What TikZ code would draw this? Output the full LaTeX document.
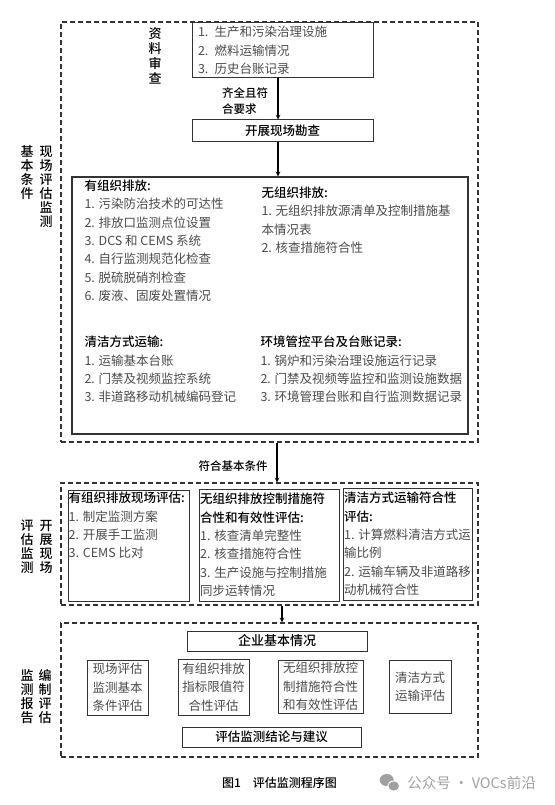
\documentclass[tikz,border=0pt]{standalone}
\usepackage{fontspec}
\setmainfont{Noto Sans CJK SC}
\IfFontExistsTF{Noto Sans CJK SC Medium}{\newfontfamily\heiti{Noto Sans CJK SC Medium}}{\newcommand{\heiti}{\bfseries}}
\usetikzlibrary{positioning}

\definecolor{itemgray}{HTML}{4A4A4A}
\definecolor{framegray}{HTML}{333333}
\definecolor{markgray}{HTML}{A0A0A0}

\newcommand{\titulo}[1]{{\color{black}\heiti #1}}

\tikzstyle{line} = [draw, -stealth, line width=1.1pt]
\tikzstyle{stage} = [draw=framegray, dash pattern=on 5pt off 3pt, line width=1.1pt, rectangle, minimum width=417pt, inner sep=0pt]
\tikzstyle{block} = [draw=framegray, line width=1pt, rectangle, inner sep=0pt, font=\fontsize{12.5pt}{18.4pt}\selectfont]
\tikzstyle{items} = [text=itemgray, align=left, inner sep=0pt, anchor=north west, font=\fontsize{12.5pt}{18.3pt}\selectfont]
\tikzstyle{vlabel} = [align=center, inner sep=0pt, font=\fontsize{13pt}{14pt}\selectfont\heiti]
\tikzstyle{note} = [align=left, inner sep=0pt, font=\fontsize{11.5pt}{16pt}\selectfont\heiti]

\begin{document}
\begin{tikzpicture}[node distance=0pt]
\useasboundingbox (0,0) rectangle (554pt,-805pt);
% etapas
\node [stage, minimum height=420pt] (stag1) at (269.5pt,-232pt) {};
\node [stage, minimum height=122pt, below of=stag1, yshift=-312pt] (stag2) {};
\node [stage, minimum height=134pt, below of=stag2, yshift=-146pt] (stag3) {};
% rotulos laterais
\node [vlabel, left of=stag1, xshift=-223.5pt, yshift=45pt] (lbas1) {现\\场\\评\\估\\监\\测};
\node [vlabel, left of=stag1, xshift=-242.5pt, yshift=59pt] (lbas2) {基\\本\\条\\件};
\node [vlabel, left of=stag2, xshift=-223.5pt, yshift=-3pt] (lfld1) {开\\展\\现\\场};
\node [vlabel, left of=stag2, xshift=-242.5pt, yshift=-3pt] (lfld2) {评\\估\\监\\测};
\node [vlabel, left of=stag3, xshift=-224.5pt, yshift=-7pt] (lrep1) {编\\制\\评\\估};
\node [vlabel, left of=stag3, xshift=-242.5pt, yshift=-7pt] (lrep2) {监\\测\\报\\告};
% primeira etapa
\node [block, above of=stag1, xshift=13pt, yshift=181.5pt, minimum height=55pt, text width=169pt, inner xsep=6pt, align=left, text=itemgray] (docum) {1. 生产和污染治理设施\\2. 燃料运输情况\\3. 历史台账记录};
\node [vlabel, left of=docum, xshift=-127.5pt, yshift=-5pt, font=\fontsize{13pt}{15pt}\selectfont\heiti] (ldocu) {资\\料\\审\\查};
\node [note, left of=docum, xshift=-37.5pt, yshift=-50.5pt] (lcomp) {齐全且符\\合要求};
\node [block, below of=docum, yshift=-80.5pt, minimum width=181pt, minimum height=22pt, font=\fontsize{12.5pt}{14pt}\selectfont\heiti] (surve) {开展现场勘查};
\node [block, below of=surve, xshift=-12.5pt, yshift=-174.5pt, minimum width=396pt, minimum height=257pt, line width=1.3pt] (check) {};
\node [items] (orgem) at ([xshift=13pt, yshift=-3.5pt]check.north west) {\titulo{有组织排放:}\\1. 污染防治技术的可达性\\2. 排放口监测点位设置\\3. DCS 和 CEMS 系统\\4. 自行监测规范化检查\\5. 脱硫脱硝剂检查\\6. 废液、固废处置情况};
\node [items] (fugem) at ([xshift=190pt, yshift=-10.5pt]check.north west) {\titulo{无组织排放:}\\1. 无组织排放源清单及控制措施基\\本情况表\\2. 核查措施符合性};
\node [items] (clean) at ([xshift=13pt, yshift=-159.5pt]check.north west) {\titulo{清洁方式运输:}\\1. 运输基本台账\\2. 门禁及视频监控系统\\3. 非道路移动机械编码登记};
\node [items] (envir) at ([xshift=189pt, yshift=-159.5pt]check.north west) {\titulo{环境管控平台及台账记录:}\\1. 锅炉和污染治理设施运行记录\\2. 门禁及视频等监控和监测设施数据\\3. 环境管理台账和自行监测数据记录};
% segunda etapa
\node [note, above of=stag2, xshift=-36.5pt, yshift=78pt] (lcond) {符合基本条件};
\node [block, left of=stag2, xshift=-141pt, yshift=-1.5pt, minimum width=121pt, minimum height=111pt] (evorg) {};
\node [block, below of=stag2, xshift=-0.5pt, yshift=-1pt, minimum width=140pt, minimum height=112pt] (evfug) {};
\node [block, right of=stag2, xshift=138pt, minimum width=129pt, minimum height=112pt] (evcln) {};
\node [items] (torg) at ([xshift=1pt, yshift=-2.5pt]evorg.north west) {\titulo{有组织排放现场评估:}\\1. 制定监测方案\\2. 开展手工监测\\3. CEMS 比对};
\node [items] (tfug) at ([xshift=1.5pt, yshift=-4.5pt]evfug.north west) {\titulo{无组织排放控制措施符}\\\titulo{合性和有效性评估:}\\1. 核查清单完整性\\2. 核查措施符合性\\3. 生产设施与控制措施\\同步运转情况};
\node [items] (tcln) at ([xshift=1.5pt, yshift=-4.5pt]evcln.north west) {\titulo{清洁方式运输符合性}\\\titulo{评估:}\\1. 计算燃料清洁方式运\\输比例\\2. 运输车辆及非道路移\\动机械符合性};
% terceira etapa
\node [block, above of=stag3, xshift=7.5pt, yshift=49pt, minimum width=180pt, minimum height=20pt, font=\fontsize{13pt}{14pt}\selectfont\heiti] (firma) {企业基本情况};
\node [block, left of=stag3, xshift=-152pt, yshift=2.5pt, minimum width=61pt, minimum height=55pt, align=center, text=itemgray] (rsbas) {现场评估\\监测基本\\条件评估};
\node [block, left of=stag3, xshift=-56pt, yshift=3pt, minimum width=71pt, minimum height=56pt, align=center, text=itemgray] (rsorg) {有组织排放\\指标限值符\\合性评估};
\node [block, right of=stag3, xshift=51pt, yshift=3.5pt, minimum width=85pt, minimum height=53pt, align=center, text=itemgray] (rsfug) {无组织排放控\\制措施符合性\\和有效性评估};
\node [block, right of=stag3, xshift=150.5pt, yshift=3.5pt, minimum width=62pt, minimum height=53pt, align=center, text=itemgray] (rscln) {清洁方式\\运输评估};
\node [block, below of=stag3, xshift=2pt, yshift=-47pt, minimum width=179pt, minimum height=20pt, font=\fontsize{12.5pt}{14pt}\selectfont\heiti] (concl) {评估监测结论与建议};
% legenda
\node [below of=stag3, xshift=10pt, yshift=-93pt, font=\fontsize{12pt}{14pt}\selectfont\heiti] (capti) {图1\hspace{1em}评估监测程序图};
\node [below of=stag3, xshift=202pt, yshift=-93pt, text=markgray, font=\fontsize{14.5pt}{16pt}\selectfont] (marca) {公众号 · VOCs前沿};
\fill [markgray] ([xshift=-17pt, yshift=3pt]marca.west) ellipse (7pt and 6pt);
\filldraw [fill=markgray, draw=white, line width=1pt] ([xshift=-10pt, yshift=-3pt]marca.west) ellipse (6pt and 5pt);
%arrows
\path [line] ([xshift=-4.5pt]docum.south) -- ([xshift=-4.5pt]docum.south |- surve.north);
\path [line] ([xshift=-4.5pt]surve.south) -- ([xshift=-4.5pt]surve.south |- check.north);
\path [line] ([xshift=7.5pt]stag1.south) -- ([xshift=7.5pt]stag2.north);
\path [line] ([xshift=12.5pt]stag2.south) -- ([xshift=12.5pt]stag3.north);
\end{tikzpicture}
\end{document}
